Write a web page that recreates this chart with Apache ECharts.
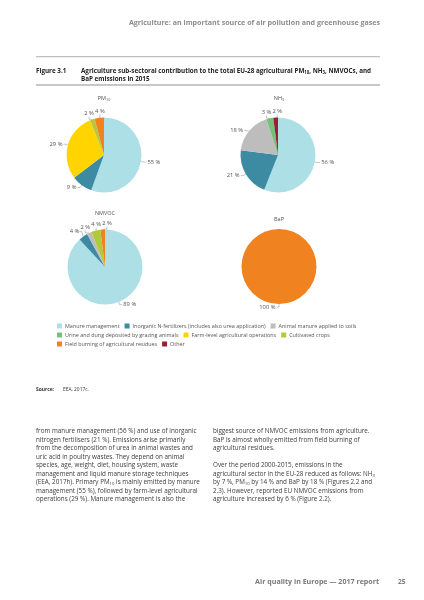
<!DOCTYPE html>
<html>
<head>
<meta charset="utf-8">
<script src="https://cdn.jsdelivr.net/npm/echarts@6/dist/echarts.min.js"></script>
<style>
html,body{margin:0;padding:0;background:#fff;}
#c{width:424px;height:600px;}
</style>
</head>
<body>
<div id="c"></div>
<script>
// ---- data ----
const categories = [
  'Manure management',
  'Inorganic N-fertilizers (includes also urea application)',
  'Animal manure applied to soils',
  'Urine and dung deposited by grazing animals',
  'Farm-level agricultural operations',
  'Cultivated crops',
  'Field burning of agricultural residues',
  'Other'
];
const pollutantTitles = ['PM{s|10}', 'NH{s|3}', 'NMVOC', 'BaP'];
const pm10Values  = [55, 9, 0, 0, 29, 2, 4, 0];
const nh3Values   = [56, 21, 18, 3, 0, 0, 0, 2];
const nmvocValues = [89, 4, 2, 0, 0, 4, 2, 0];
const bapValues   = [0, 0, 0, 0, 0, 0, 100, 0];
const legendRows = [[0, 1, 2], [3, 4, 5], [6, 7]];

// ---- styles ----
const colors = ['#acdfe6', '#3d8aa3', '#bdbdbd', '#74c27a', '#ffd400', '#b3c83c', '#f0821f', '#9e1b3b'];
const FONT = '"Open Sans", sans-serif';
const PIE_R = 37.5;
const LABEL_SIZE = 5.8;

function pieData(vals) {
  return vals.map((v, i) => ({ name: categories[i], value: v, itemStyle: { color: colors[i] } }))
             .filter(d => d.value > 0);
}
const pieCenters = [[104, 155], [278, 155], [105, 267], [279, 266.5]];
const allValues = [pm10Values, nh3Values, nmvocValues, bapValues];

// Labels of slices near 12 o'clock are centred above their slice and spread sideways so they do not collide
const measureCtx = document.createElement('canvas').getContext('2d');
function topLabelPositions(k) {
  const data = pieData(allValues[k]);
  const total = data.reduce((s, d) => s + d.value, 0);
  const cx = pieCenters[k][0], cy = pieCenters[k][1];
  const R = PIE_R + 6;
  measureCtx.font = LABEL_SIZE + 'px ' + FONT;
  let acc = 0;
  const items = [];
  data.forEach((d, j) => {
    const mid = (acc + d.value / 2) / total * Math.PI * 2;
    acc += d.value;
    if (Math.cos(mid) > 0.8) {
      items.push({ j: j, x: cx + R * Math.sin(mid), y: cy - R * Math.cos(mid),
                   w: measureCtx.measureText(d.value + ' %').width + 1.2 });
    }
  });
  items.sort((a, b) => a.x - b.x);
  // 1-D cluster relaxation
  let clusters = items.map(it => ({ items: [it], desired: it.x }));
  let changed = true;
  function layoutCluster(c) {
    const width = c.items.reduce((s, it) => s + it.w, 0);
    const mean = c.items.reduce((s, it) => s + it.x, 0) / c.items.length;
    let x = mean - width / 2;
    c.pos = c.items.map(it => { const p = x + it.w / 2; x += it.w; return p; });
    c.left = mean - width / 2; c.right = mean + width / 2;
  }
  clusters.forEach(layoutCluster);
  while (changed) {
    changed = false;
    for (let i = 0; i < clusters.length - 1; i++) {
      if (clusters[i].right > clusters[i + 1].left) {
        clusters[i].items = clusters[i].items.concat(clusters[i + 1].items);
        clusters.splice(i + 1, 1);
        layoutCluster(clusters[i]);
        changed = true;
        break;
      }
    }
  }
  const out = {};
  clusters.forEach(c => c.items.forEach((it, n) => { out[it.j] = { x: c.pos[n], y: it.y }; }));
  return out;
}

function labelLayoutFor(k) {
  const pos = topLabelPositions(k);
  return function (p) {
    const q = pos[p.dataIndex];
    if (!q) return;
    return { x: q.x, y: q.y, align: 'center', verticalAlign: 'middle' };
  };
}

const series = allValues.map((vals, k) => ({
  type: 'pie',
  center: pieCenters[k],
  radius: PIE_R,
  startAngle: 90,
  clockwise: true,
  silent: true,
  animation: false,
  avoidLabelOverlap: true,
  data: pieData(vals),
  itemStyle: { borderWidth: 0 },
  label: { show: true, position: 'outside', formatter: '{c} %', fontSize: LABEL_SIZE, color: '#555', fontFamily: FONT, distanceToLabelLine: 1 },
  labelLine: { show: true, length: 3, length2: 2.5, lineStyle: { color: '#8a8a8a', width: 0.5 } },
  labelLayout: labelLayoutFor(k)
}));

const legends = legendRows.map((row, r) => ({
  data: row.map(i => categories[i]),
  left: 57,
  top: 323.5 + r * 9,
  orient: 'horizontal',
  padding: 0,
  itemWidth: 5,
  itemHeight: 5,
  itemGap: 5,
  icon: 'rect',
  selectedMode: false,
  textStyle: { fontSize: 5.4, color: '#555', fontFamily: FONT, padding: [0, 0, 0, -2] }
}));

function txt(text, x, y, opts) {
  opts = opts || {};
  const size = opts.size || 6.3;
  const color = opts.color || '#3c3c3c';
  return {
    type: 'text', x: x, y: y, silent: true,
    style: {
      text: text,
      font: (opts.bold ? 'bold ' : '') + size + 'px ' + FONT,
      fill: color,
      align: opts.align || 'left', textAlign: opts.align || 'left',
      verticalAlign: 'middle', textVerticalAlign: 'middle',
      rich: { s: { fontSize: size * 0.68, padding: [3, 0, 0, 0], fill: color, fontWeight: opts.bold ? 'bold' : 'normal', fontFamily: FONT } }
    }
  };
}

const leftCol = [
  'from manure management (56 %) and use of inorganic',
  'nitrogen fertilisers (21 %). Emissions arise primarily',
  'from the decomposition of urea in animal wastes and',
  'uric acid in poultry wastes. They depend on animal',
  'species, age, weight, diet, housing system, waste',
  'management and liquid manure storage techniques',
  '(EEA, 2017h). Primary PM{s|10} is mainly emitted by manure',
  'management (55 %), followed by farm-level agricultural',
  'operations (29 %). Manure management is also the'
];
const rightCol = [
  'biggest source of NMVOC emissions from agriculture.',
  'BaP is almost wholly emitted from field burning of',
  'agricultural residues.',
  '',
  'Over the period 2000-2015, emissions in the',
  'agricultural sector in the EU-28 reduced as follows: NH{s|3}',
  'by 7 %, PM{s|10} by 14 % and BaP by 18 % (Figures 2.2 and',
  '2.3). However, reported EU NMVOC emissions from',
  'agriculture increased by 6 % (Figure 2.2).'
];

const graphics = [
  txt('Agriculture: an important source of air pollution and greenhouse gases', 380, 23.3, { bold: true, size: 7.1, color: '#8c8c8c', align: 'right' }),
  { type: 'line', silent: true, shape: { x1: 36, y1: 56.7, x2: 380, y2: 56.7 }, style: { stroke: '#9a9a9a', lineWidth: 0.8 } },
  txt('Figure 3.1', 36, 71, { bold: true, size: 6.3, color: '#222' }),
  txt('Agriculture sub-sectoral contribution to the total EU-28 agricultural PM{s|10}, NH{s|3}, NMVOCs, and', 81, 71, { bold: true, size: 6.3, color: '#222' }),
  txt('BaP emissions in 2015', 81, 79, { bold: true, size: 6.3, color: '#222' }),
  { type: 'line', silent: true, shape: { x1: 36, y1: 85, x2: 380, y2: 85 }, style: { stroke: '#b4b4b4', lineWidth: 1.6 } },
  txt(pollutantTitles[0], 104, 98, { size: 5.5, color: '#555', align: 'center' }),
  txt(pollutantTitles[1], 279, 98, { size: 5.5, color: '#555', align: 'center' }),
  txt(pollutantTitles[2], 105, 213, { size: 5.5, color: '#555', align: 'center' }),
  txt(pollutantTitles[3], 279, 219, { size: 5.5, color: '#555', align: 'center' }),
  txt('Source:', 36, 390, { bold: true, size: 4.9, color: '#333' }),
  txt('EEA, 2017c.', 63, 390, { size: 4.9, color: '#333' }),
  txt('Air quality in Europe \u2014 2017 report', 379, 581.7, { bold: true, size: 7.1, color: '#7a7a7a', align: 'right' }),
  txt('25', 398, 581.7, { bold: true, size: 6.6, color: '#7a7a7a' })
];
leftCol.forEach((t, i) => { if (t) graphics.push(txt(t, 36, 431.7 + i * 8.45)); });
rightCol.forEach((t, i) => { if (t) graphics.push(txt(t, 213, 431.7 + i * 8.45)); });

const chart = echarts.init(document.getElementById('c'), null, { renderer: 'canvas' });
chart.setOption({
  backgroundColor: '#ffffff',
  animation: false,
  legend: legends,
  series: series,
  graphic: { elements: graphics }
});
</script>
</body>
</html>
